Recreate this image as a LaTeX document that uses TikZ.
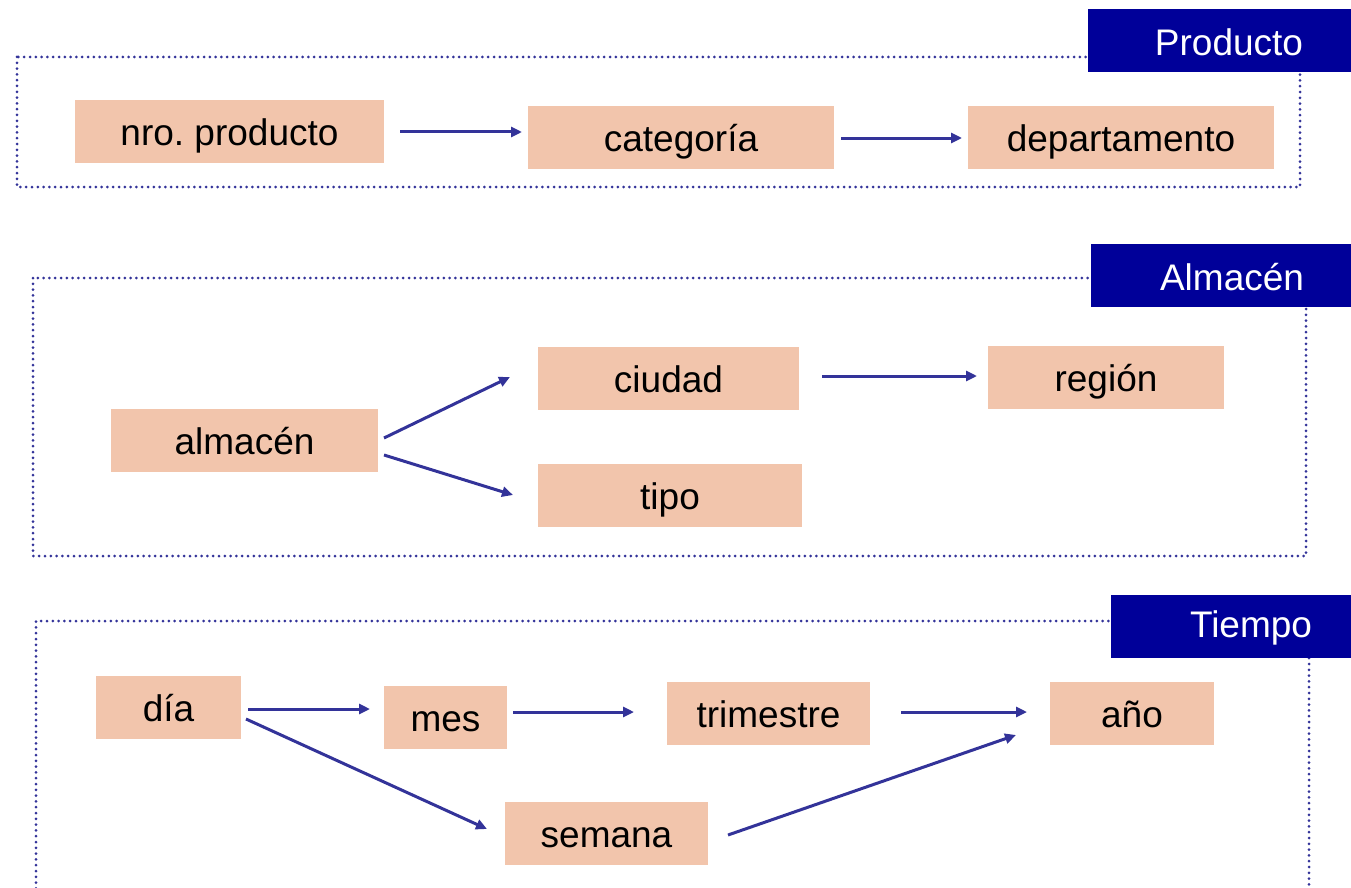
\documentclass[tikz,border=0pt]{standalone}
\usepackage{fontspec}
\setmainfont{Liberation Sans}
\usetikzlibrary{arrows.meta}
\frenchspacing
\definecolor{boxfill}{HTML}{F2C5AC}
\definecolor{navy}{HTML}{000099}
\definecolor{linkblue}{HTML}{333399}
\tikzset{
  attr/.style={fill=boxfill, draw=none, inner sep=0pt, text height=36pt, text depth=8pt,
               font=\fontsize{37}{40}\selectfont, text=black},
  dimlabel/.style={fill=navy, draw=none, inner sep=0pt},
  dimtext/.style={text=white, inner sep=0pt, font=\fontsize{37}{40}\selectfont},
  frame/.style={draw=linkblue, line width=3pt, dash pattern=on 0pt off 5.8pt, line cap=round},
  link/.style={draw=linkblue, line width=3pt, -{Triangle[length=11pt,width=10pt]}}
}
\begin{document}
\begin{tikzpicture}[x=1pt,y=1pt]
\useasboundingbox (0,0) rectangle (1351,-888);

% ---- Producto ----
\draw[frame] (17,-57) rectangle (1300,-187);
\node[dimlabel, minimum width=263pt, minimum height=63pt, anchor=north west] (lprod) at (1088,-9) {};
\node[dimtext] (tprod) at (1229,-42) {Producto};

\node[attr, minimum width=309pt, minimum height=63pt] (nro) at (229.5,-131.5) {nro.\ producto};
\node[attr, minimum width=306pt, minimum height=63pt] (cat) at (681,-137.5) {categoría};
\node[attr, minimum width=306pt, minimum height=63pt] (dep) at (1121,-137.5) {departamento};

\coordinate (a1s) at (400,-132); \coordinate (a1e) at (522,-132);
\coordinate (a2s) at (841,-138); \coordinate (a2e) at (962,-138);
\draw[link] (a1s) -- (a1e);
\draw[link] (a2s) -- (a2e);

% ---- Almacén ----
\draw[frame] (33,-278) rectangle (1306,-556);
\node[dimlabel, minimum width=260pt, minimum height=63pt, anchor=north west] (lalm) at (1091,-244) {};
\node[dimtext] (talm) at (1232,-277) {Almacén};

\node[attr, minimum width=267pt, minimum height=63pt] (alm) at (244.5,-440.5) {almacén};
\node[attr, minimum width=261pt, minimum height=63pt] (ciu) at (668.5,-378.5) {ciudad};
\node[attr, minimum width=236pt, minimum height=63pt] (reg) at (1106,-377.5) {región};
\node[attr, minimum width=264pt, minimum height=63pt] (tip) at (670,-495.5) {tipo};

\coordinate (b1s) at (384,-438); \coordinate (b1e) at (510,-377);
\coordinate (b2s) at (384,-455); \coordinate (b2e) at (513,-495);
\coordinate (b3s) at (822,-376); \coordinate (b3e) at (977,-376);
\draw[link] (b1s) -- (b1e);
\draw[link] (b2s) -- (b2e);
\draw[link] (b3s) -- (b3e);

% ---- Tiempo (frame runs past the lower edge) ----
\draw[frame] (36,-900) -- (36,-621) -- (1309,-621) -- (1309,-900);
\node[dimlabel, minimum width=240pt, minimum height=63pt, anchor=north west] (ltie) at (1111,-595) {};
\node[dimtext] (ttie) at (1251,-628) {Tiempo};

\node[attr, minimum width=145pt, minimum height=63pt] (dia) at (168.5,-707.5) {día};
\node[attr, minimum width=123pt, minimum height=63pt] (mes) at (445.5,-717.5) {mes};
\node[attr, minimum width=203pt, minimum height=63pt] (tri) at (768.5,-713.5) {trimestre};
\node[attr, minimum width=164pt, minimum height=63pt] (ano) at (1132,-713.5) {año};
\node[attr, minimum width=203pt, minimum height=63pt] (sem) at (606.5,-833.5) {semana};

\coordinate (c1s) at (248,-709); \coordinate (c1e) at (370,-709);
\coordinate (c2s) at (513,-712); \coordinate (c2e) at (634,-712);
\coordinate (c3s) at (901,-712); \coordinate (c3e) at (1027,-712);
\coordinate (c4s) at (246,-719); \coordinate (c4e) at (487,-829);
\coordinate (c5s) at (728,-835); \coordinate (c5e) at (1016,-735);
\draw[link] (c1s) -- (c1e);
\draw[link] (c2s) -- (c2e);
\draw[link] (c3s) -- (c3e);
\draw[link] (c4s) -- (c4e);
\draw[link] (c5s) -- (c5e);
\end{tikzpicture}
\end{document}
